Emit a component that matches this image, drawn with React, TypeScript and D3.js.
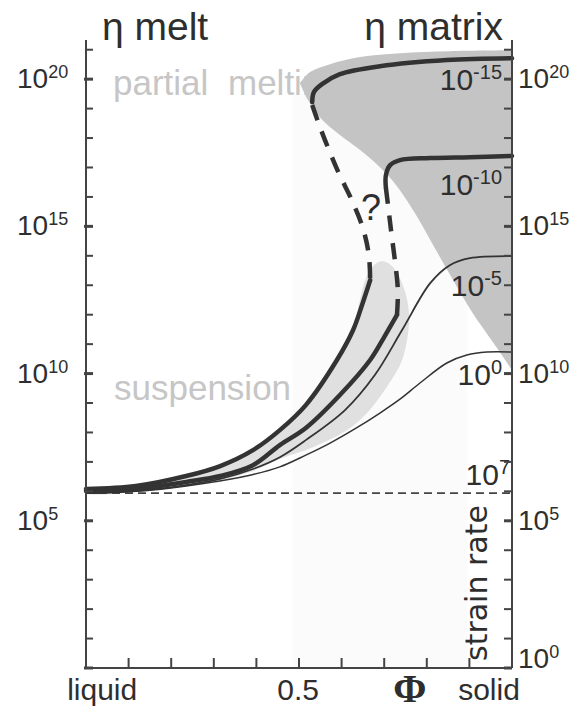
import * as d3 from "d3";

// curves: [phi, log10(eta)]
const curveRate0 = [
  [0, 5.94], [0.15, 6.04], [0.268, 6.25], [0.385, 6.55], [0.455, 6.83], [0.516, 7.23],
  [0.573, 7.64], [0.631, 8.12], [0.69, 8.66], [0.737, 9.13], [0.784, 9.68], [0.847, 10.36],
  [0.894, 10.63], [0.941, 10.73], [1, 10.73],
];
const curveRateM5 = [
  [0, 5.94], [0.117, 6.01], [0.235, 6.21], [0.315, 6.42], [0.392, 6.76], [0.455, 7.16],
  [0.516, 7.74], [0.608, 8.76], [0.678, 9.95], [0.742, 11.48], [0.808, 13.07], [0.854, 13.68],
  [0.901, 13.92], [1, 13.99],
];
const thickLow = [
  [0, 6.01], [0.117, 6.08], [0.235, 6.32], [0.315, 6.52], [0.392, 6.89], [0.455, 7.57],
  [0.516, 8.15], [0.596, 9.27], [0.667, 10.46], [0.7, 11.24], [0.73, 11.99],
];
const thickHigh = [
  [0, 6.08], [0.117, 6.18], [0.235, 6.52], [0.315, 6.86], [0.392, 7.4], [0.455, 8.08],
  [0.516, 8.93], [0.589, 10.46], [0.627, 11.48], [0.648, 12.33], [0.667, 13.17],
];
const dashHigh = [
  [0.531, 19.12], [0.545, 18.54], [0.561, 17.93], [0.592, 16.85], [0.624, 15.89],
  [0.65, 14.94], [0.664, 14.02], [0.667, 13.17],
];
const dashLow = [
  [0.73, 11.99], [0.732, 12.84], [0.725, 13.85], [0.716, 14.87], [0.709, 15.72], [0.704, 16.3],
];
const curveRateM10 = [
  [0.704, 16.3], [0.704, 16.74], [0.714, 17.08], [0.737, 17.25], [0.808, 17.32], [0.901, 17.35], [1, 17.39],
];
const curveRateM15 = [
  [0.531, 19.22], [0.535, 19.56], [0.554, 19.83], [0.596, 20.17], [0.69, 20.44], [0.847, 20.65], [1, 20.71],
];

// shaded fields
const meltTop = [
  [0.502, 19.86], [0.526, 20.24], [0.573, 20.51], [0.643, 20.75], [0.737, 20.88], [0.854, 20.95], [1, 20.98],
];
const meltBottom = [
  [1, 10.12], [0.955, 11.07], [0.908, 12.05], [0.862, 13.17], [0.815, 14.36], [0.772, 15.45],
  [0.737, 16.23], [0.702, 16.84], [0.65, 17.52], [0.596, 18.1], [0.549, 18.71], [0.521, 19.29], [0.502, 19.86],
];
const suspensionEdge = [
  [0.643, 12.5], [0.657, 13.24], [0.674, 13.65], [0.695, 13.82], [0.718, 13.65], [0.742, 13.07],
  [0.756, 12.33], [0.758, 11.65], [0.742, 10.46], [0.709, 9.61], [0.66, 8.66], [0.613, 8.08],
  [0.533, 7.5], [0.455, 7.1], [0.385, 6.66], [0.268, 6.25], [0.15, 6.04], [0, 5.94],
];

const matrixLog = 5.94;
const decades = d3.range(0, 22);
const leftLabels = [20, 15, 10, 5];
const rightLabels = [20, 15, 10, 5, 0];
const phiTicks = [0, 0.1, 0.2, 0.3, 0.4, 0.5, 0.6, 0.7, 0.8, 0.9, 1];
const strainRates = ["-15", "-10", "-5", "0", "7"];
const strainLabelLog = [20, 16.45, 13, 10, 6.6];
const bottomLabels = ["liquid", "0.5", "solid"];
const bottomLabelPhi = [0.038, 0.498, 0.946];

const W = 583;
const H = 712;
const x = d3.scaleLinear().domain([0, 1]).range([86, 512]);
const y = d3.scaleLinear().domain([0, 21.33]).range([668, 40]);

const ink = "#2e2e2e";
const sans = "'Liberation Sans', Arial, sans-serif";

export default function App() {
  const line = d3
    .line<number[]>()
    .x((d) => x(d[0]))
    .y((d) => y(d[1]))
    .curve(d3.curveCatmullRom.alpha(0.5));
  const poly = d3
    .line<number[]>()
    .x((d) => x(d[0]))
    .y((d) => y(d[1]))
    .curve(d3.curveCatmullRomClosed.alpha(0.5));

  const susIdx = thickHigh.findIndex((d) => d[1] > 11);
  const suspensionArea = [...thickHigh.slice(0, susIdx + 1), ...suspensionEdge];
  const meltPath = `${line(meltTop)}L${(line(meltBottom) || "").slice(1)}Z`;

  return (
    <svg width={W} height={H} style={{ position: "absolute", left: 0, top: 0, background: "#fff" }}>
      <defs>
        <clipPath id="plot">
          <rect x={x(0)} y={y(21.33)} width={x(1) - x(0)} height={y(0) - y(21.33)} />
        </clipPath>
      </defs>

      {/* faint show-through of the facing page */}
      <rect x={x(0.485)} y={y(19.5)} width={x(0.895) - x(0.485)} height={y(0) - y(19.5)} fill="#fbfbfb" />

      <text x={113} y={95} fontFamily={sans} fontSize={35} fill="#c6c6c6">partial</text>
      <text x={228} y={95} fontFamily={sans} fontSize={35} fill="#c6c6c6">melting</text>
      <text x={114} y={400} fontFamily={sans} fontSize={35} fill="#c6c6c6">suspension</text>

      <g clipPath="url(#plot)">
        <path d={meltPath} fill="#c4c4c4" />
        <path d={poly(suspensionArea) || ""} fill="#e0e0e0" />
      </g>

      <line x1={x(0)} x2={x(1)} y1={y(matrixLog)} y2={y(matrixLog)} stroke="#444" strokeWidth={1.6} strokeDasharray="8 5" />

      <g fill="none" stroke="#333" strokeLinecap="round" strokeLinejoin="round">
        <path d={line(curveRate0) || ""} strokeWidth={1.5} />
        <path d={line(curveRateM5) || ""} strokeWidth={1.8} />
        <path d={line(thickLow) || ""} strokeWidth={4.5} />
        <path d={line(thickHigh) || ""} strokeWidth={4.5} />
        <path d={line(curveRateM10) || ""} strokeWidth={4.5} />
        <path d={line(curveRateM15) || ""} strokeWidth={4.5} />
        <path d={line(dashHigh) || ""} strokeWidth={4.5} strokeDasharray="16 12" strokeLinecap="butt" />
        <path d={line(dashLow) || ""} strokeWidth={4.5} strokeDasharray="16 12" strokeLinecap="butt" />
      </g>

      <text x={371} y={220} textAnchor="middle" fontFamily={sans} fontSize={36} fill={ink}>?</text>

      {/* strain rate labels */}
      {strainRates.map((s, i) => (
        <text
          key={s}
          x={i === 4 ? 510 : 502}
          y={y(strainLabelLog[i]) + 11}
          textAnchor="end"
          fontFamily={sans}
          fontSize={30}
          fill={ink}
        >
          10<tspan fontSize={20} dy={-11}>{s}</tspan>
        </text>
      ))}
      <text
        transform={`translate(487,661) rotate(-90)`}
        fontFamily="'DejaVu Sans', sans-serif"
        fontSize={30}
        fill={ink}
      >
        strain rate
      </text>

      {/* axes */}
      <g stroke="#444">
        <line x1={x(0)} x2={x(0)} y1={y(21.33)} y2={y(0)} strokeWidth={2} />
        <line x1={x(1)} x2={x(1)} y1={y(21.33)} y2={y(0)} strokeWidth={2} />
        <line x1={x(0)} x2={x(1)} y1={y(0)} y2={y(0)} strokeWidth={2} />
        {decades.map((k) => (
          <g key={k}>
            <line x1={x(0) - (k % 5 === 0 ? 2 : 0)} x2={x(0) + 7} y1={y(k)} y2={y(k)} strokeWidth={k % 5 === 0 ? 3 : 2} />
            <line x1={x(1) - 8} x2={x(1)} y1={y(k)} y2={y(k)} strokeWidth={k % 5 === 0 ? 3 : 2} />
          </g>
        ))}
        {phiTicks.map((p) => (
          <line key={p} x1={x(p)} x2={x(p)} y1={y(0)} y2={y(0) - 10} strokeWidth={2} />
        ))}
      </g>

      {leftLabels.map((k) => (
        <text key={k} x={17} y={y(k) + 9} fontFamily={sans} fontSize={28} fill={ink}>
          10<tspan fontSize={18} dy={-10}>{k}</tspan>
        </text>
      ))}
      {rightLabels.map((k) => (
        <text key={k} x={518} y={Math.min(y(k) + 9, 668)} fontFamily={sans} fontSize={28} fill={ink}>
          10<tspan fontSize={18} dy={-10}>{k}</tspan>
        </text>
      ))}

      {bottomLabels.map((t, i) => (
        <text key={t} x={x(bottomLabelPhi[i])} y={700} textAnchor="middle" fontFamily={sans} fontSize={30} fill={ink}>
          {t}
        </text>
      ))}
      <text x={x(0.76)} y={702} textAnchor="middle" fontFamily="'Liberation Serif', serif" fontSize={40} fontWeight="bold" fill={ink}>
        Φ
      </text>

      <text x={102} y={40} fontFamily={sans} fontSize={39} fill={ink}>η melt</text>
      <text x={503} y={40} textAnchor="end" fontFamily={sans} fontSize={39} fill={ink}>η matrix</text>
    </svg>
  );
}
